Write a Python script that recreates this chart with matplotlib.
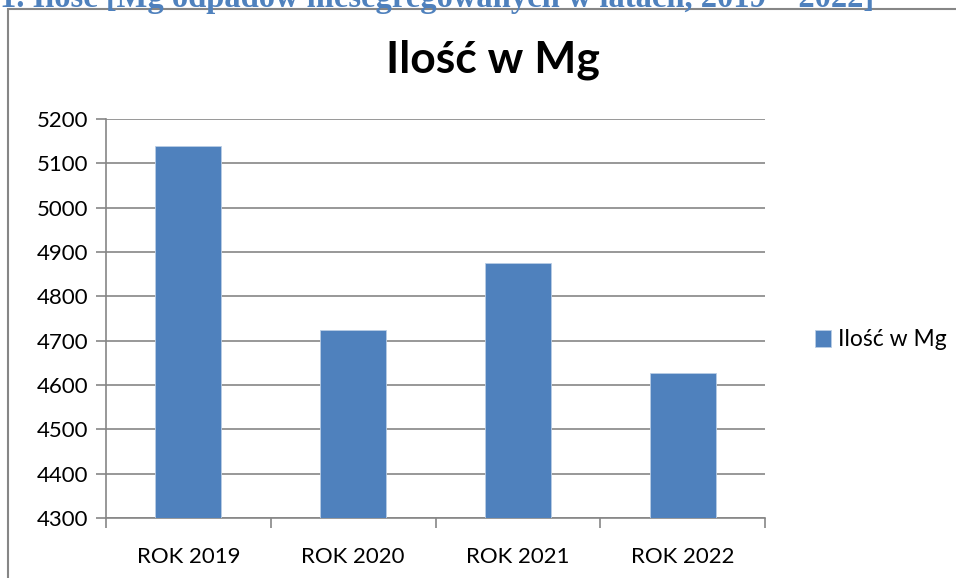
import matplotlib.pyplot as plt
from matplotlib.patches import Rectangle

# data
years = ['ROK 2019', 'ROK 2020', 'ROK 2021', 'ROK 2022']
tonnes = [5140, 4725, 4875, 4627]
series_name = 'Ilość w Mg'
yticks = list(range(4300, 5201, 100))

plt.rcParams['font.family'] = ['Lato', 'DejaVu Sans']

fig = plt.figure(figsize=(9.56, 5.78), dpi=100)
W, H = 956, 578

# outer chart frame (runs off right and bottom edge)
fig.patches.append(Rectangle((8 / W, -0.05), 1.0, (578 - 9) / H + 0.05,
                             transform=fig.transFigure, fill=False,
                             edgecolor='#868686', lw=1.5))

# caption above the chart, cut by the top edge as in the source page
fig.text(0.0, 1.0 + 1 / H, '1. Ilość [Mg odpadów niesegregowanych w latach, 2019 – 2022]',
         family='Liberation Serif', fontweight='bold', color='#4f81bd',
         fontsize=23.5, va='center', ha='left')

ax = fig.add_axes([106 / W, (578 - 518) / H, (765 - 106) / W, (518 - 119) / H])
x = list(range(len(years)))
ax.bar(x, tonnes, width=0.4, color='#4f81bd', edgecolor='#b9cde5', lw=0.6,
       label=series_name, zorder=3)

ax.set_ylim(4300, 5200)
ax.set_xlim(-0.5, len(years) - 0.5)
ax.set_yticks(yticks)
ax.set_xticks(x)
ax.set_xticklabels(years)
ax.set_xticks([i - 0.5 for i in range(len(years) + 1)], minor=True)
ax.tick_params(axis='x', which='major', length=0, pad=21, labelsize=16)
ax.tick_params(axis='x', which='minor', length=7, color='#868686', width=1.2)
ax.tick_params(axis='y', length=7, color='#868686', width=1.2, labelsize=16, pad=6)
ax.grid(axis='y', color='#868686', lw=1.2, zorder=0)

for s in ['top', 'right']:
    ax.spines[s].set_visible(False)
for s in ['left', 'bottom']:
    ax.spines[s].set_color('#868686')
    ax.spines[s].set_linewidth(1.2)

fig.text(493 / W, 1 - 60 / H, 'Ilość w Mg', fontsize=32, fontweight='bold',
         ha='center', va='center')

fig.legend(loc='center left', bbox_to_anchor=(794 / W, 1 - 340 / H), frameon=False,
           fontsize=16.5, handlelength=0.7, handleheight=0.7, handletextpad=0.3)

fig.savefig('out.png', dpi=100)
